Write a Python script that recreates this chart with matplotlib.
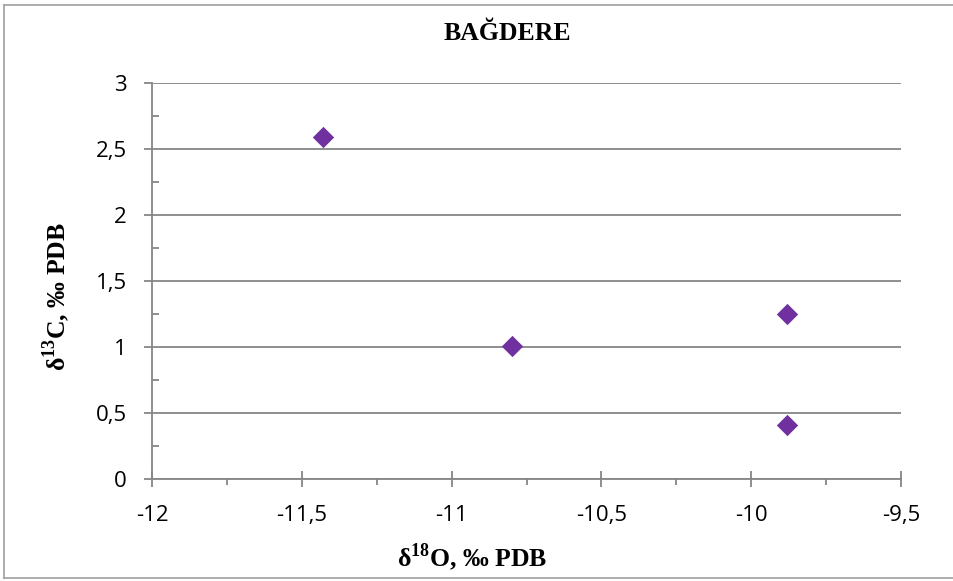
import matplotlib
matplotlib.use("Agg")
import matplotlib.pyplot as plt
from matplotlib.ticker import MultipleLocator, FuncFormatter
from matplotlib.lines import Line2D

# Data
d18O = [-11.43, -10.80, -9.88, -9.88]
d13C = [2.59, 1.01, 1.25, 0.41]
title = "BAĞDERE"
xlabel = r"$\mathbf{\delta}^{\mathbf{18}}$O, ‰ PDB"
ylabel = r"$\mathbf{\delta}^{\mathbf{13}}$C, ‰ PDB"

plt.rcParams["mathtext.fontset"] = "custom"
plt.rcParams["mathtext.rm"] = "Liberation Serif:bold"
plt.rcParams["mathtext.bf"] = "Liberation Serif:bold"

W, H = 954, 581
fig = plt.figure(figsize=(W/100, H/100), dpi=100)
ax = fig.add_axes([152/W, 1-479/H, (901-152)/W, (479-83)/H])

grey = "#868686"
ax.scatter(d18O, d13C, marker="D", s=118, color="#7030A0", zorder=3, linewidths=0)

ax.set_xlim(-12, -9.5)
ax.set_ylim(0, 3)
ax.xaxis.set_major_locator(MultipleLocator(0.5))
ax.xaxis.set_minor_locator(MultipleLocator(0.25))
ax.yaxis.set_major_locator(MultipleLocator(0.5))
ax.yaxis.set_minor_locator(MultipleLocator(0.25))
fmt = FuncFormatter(lambda v, p: ("%g" % v).replace(".", ","))
ax.xaxis.set_major_formatter(fmt)
ax.yaxis.set_major_formatter(fmt)

ax.grid(True, which="major", axis="y", color=grey, linewidth=1.3)
ax.set_axisbelow(True)
for s in ["top", "right"]:
    ax.spines[s].set_visible(False)
for s in ["left", "bottom"]:
    ax.spines[s].set_color(grey)
    ax.spines[s].set_linewidth(1.3)

ax.tick_params(axis="x", which="major", direction="inout", length=11.5, width=1.3, color=grey, pad=13)
ax.tick_params(axis="x", which="minor", direction="out", length=4.3, width=1.3, color=grey)
ax.tick_params(axis="y", which="major", direction="out", length=6, width=1.3, color=grey, pad=12)
ax.tick_params(axis="y", which="minor", direction="in", length=5, width=1.3, color=grey)
for lab in ax.get_xticklabels() + ax.get_yticklabels():
    lab.set_fontfamily("Open Sans")
    lab.set_fontsize(16)

serif = dict(family="Liberation Serif", weight="bold", fontsize=18.5)
fig.text(507/W, 1-33/H, title, ha="center", va="center", **serif)
fig.text(472/W, 1-557/H, xlabel, ha="center", va="center", **serif)
fig.text(56/W, 1-297/H, ylabel, ha="center", va="center", rotation=90, **serif)

# chart border
bc = "#A0A0A0"
fig.add_artist(Line2D([4/W, 4/W], [1-5/H, 1-578/H], transform=fig.transFigure, color=bc, lw=1.2))
fig.add_artist(Line2D([4/W, 1], [1-5/H, 1-5/H], transform=fig.transFigure, color=bc, lw=1.2))
fig.add_artist(Line2D([4/W, 1], [1-578/H, 1-578/H], transform=fig.transFigure, color=bc, lw=1.2))

fig.savefig("out.png", dpi=100)
